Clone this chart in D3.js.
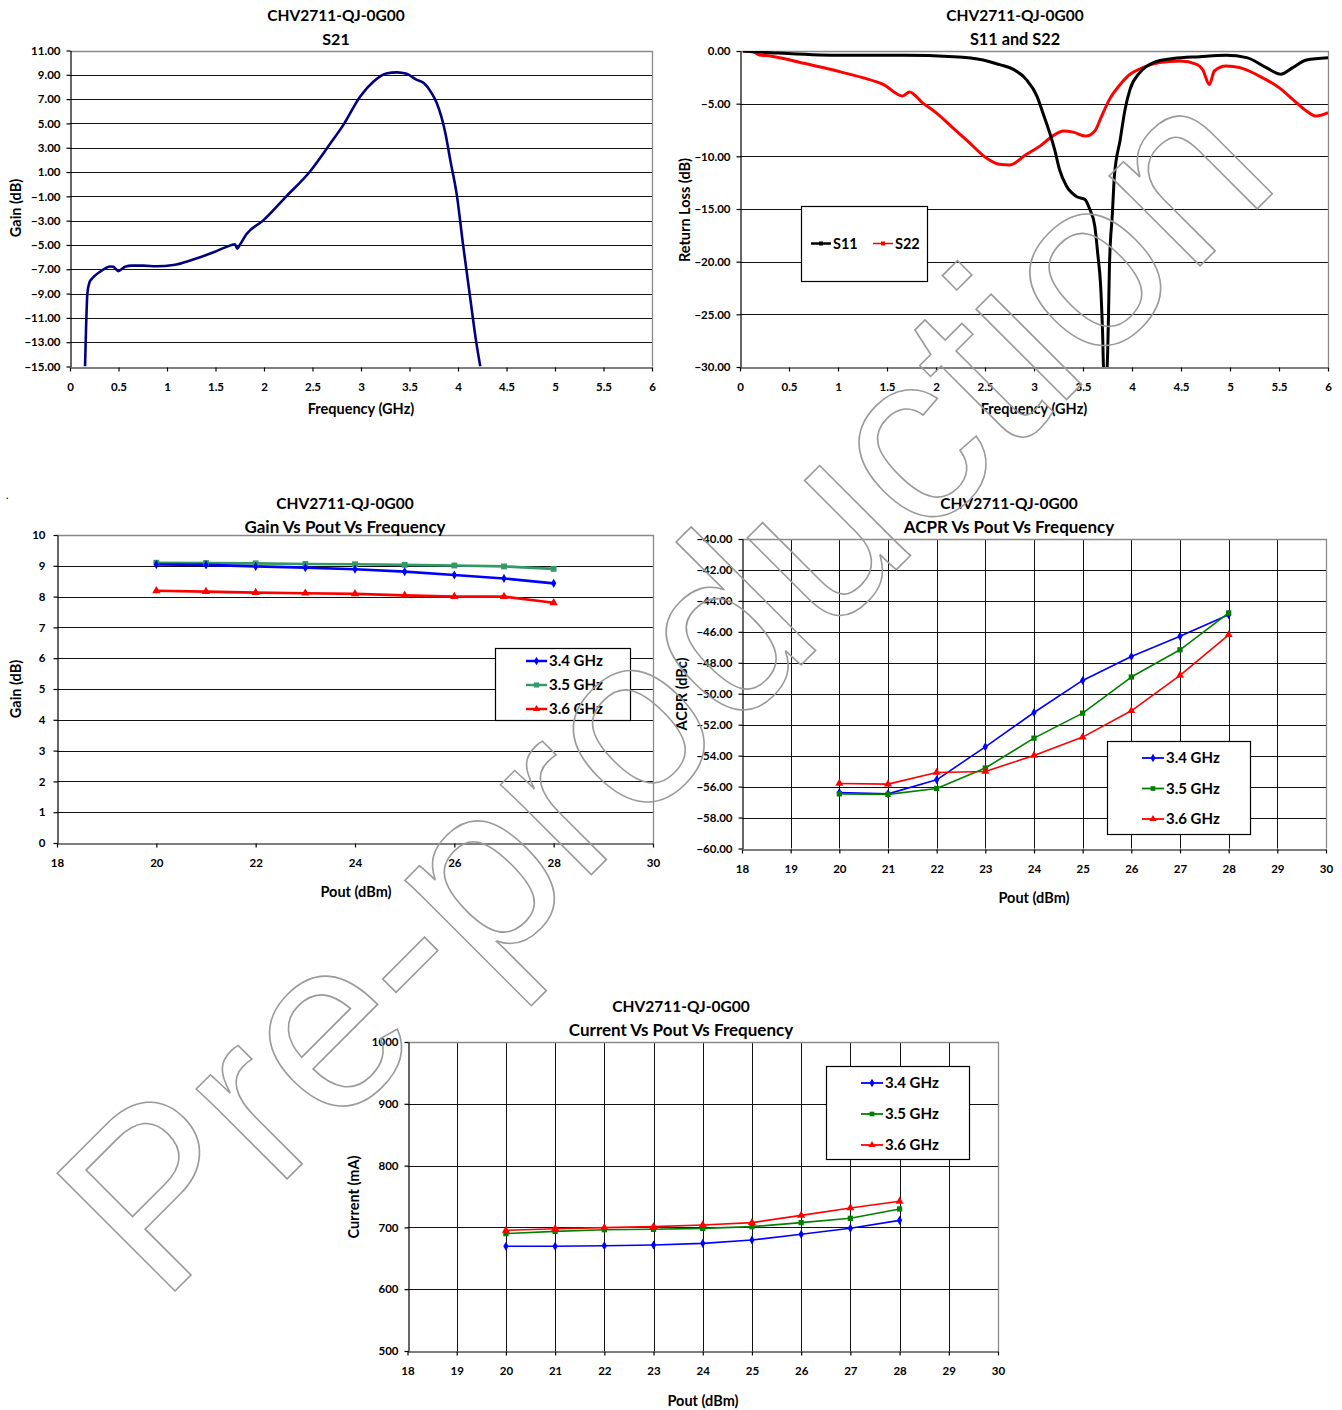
<!DOCTYPE html>
<html><head><meta charset="utf-8">
<script src="https://cdn.jsdelivr.net/npm/d3@7"></script>
<style>
html,body{margin:0;padding:0;background:#fff;}
svg text.t{font-family:Lato,"Open Sans",sans-serif;font-weight:700;fill:#000;}
</style></head>
<body>
<svg id="c" width="1342" height="1410"></svg>
<script>
// ---------- DATA ----------
const partName = "CHV2711-QJ-0G00";
// S21
const s21Freq = [0.155,0.165,0.179,0.2,0.223,0.26,0.31,0.36,0.41,0.447,0.475,0.498,0.53,0.567,0.636,0.756,0.893,1.065,1.27,1.48,1.6,1.667,1.7,1.725,1.75,1.82,1.99,2.23,2.47,2.68,2.82,2.99,3.13,3.26,3.37,3.47,3.57,3.65,3.72,3.78,3.87,3.92,3.99,4.05,4.12,4.19,4.23];
const s21Gain = [-15,-12,-9,-8.1,-7.8,-7.5,-7.2,-6.95,-6.77,-6.8,-7.0,-7.15,-7.0,-6.8,-6.7,-6.7,-6.75,-6.65,-6.2,-5.6,-5.2,-5.0,-4.95,-5.3,-5.0,-4.1,-3.0,-1.0,1.0,3.3,4.9,7.2,8.45,9.1,9.2,9.08,8.6,8.3,7.6,6.7,4.2,2.0,-1.0,-4.85,-9.0,-13.1,-15];
// S11
const s11Freq = [0.03,0.31,0.99,1.67,2.18,2.48,2.65,2.79,2.92,3.03,3.09,3.16,3.21,3.26,3.33,3.43,3.52,3.57,3.62,3.65,3.68,3.70,3.712,3.742,3.76,3.77,3.80,3.82,3.88,3.93,3.98,4.08,4.22,4.42,4.69,4.96,5.17,5.37,5.52,5.64,5.78,6.0];
const s11dB   = [0,-0.16,-0.41,-0.41,-0.54,-0.85,-1.3,-1.74,-2.69,-4.28,-5.86,-7.76,-9.34,-11.25,-12.8,-13.8,-14.1,-15.05,-16.6,-19.2,-22.3,-26.8,-30.5,-30.5,-25.2,-20.4,-15.4,-11.9,-8.4,-5.5,-3.64,-2.05,-1.1,-0.72,-0.54,-0.41,-0.63,-1.58,-2.2,-1.58,-0.85,-0.63];
// S22
const s22Freq = [0.03,0.14,0.2,0.31,0.48,0.65,0.99,1.25,1.46,1.66,1.73,1.86,2.0,2.17,2.34,2.51,2.65,2.75,2.92,3.06,3.19,3.30,3.40,3.53,3.62,3.69,3.77,3.88,3.98,4.11,4.28,4.49,4.66,4.72,4.79,4.84,4.96,5.1,5.3,5.5,5.64,5.78,5.88,6.0];
const s22dB   = [0,-0.1,-0.38,-0.47,-0.79,-1.17,-1.9,-2.53,-3.16,-4.27,-3.89,-4.9,-5.85,-7.28,-8.7,-10.13,-10.76,-10.82,-9.82,-9.03,-8.08,-7.6,-7.7,-8.08,-7.6,-6.18,-4.59,-3.17,-2.21,-1.58,-1.1,-0.95,-1.26,-1.74,-3.17,-1.9,-1.43,-1.58,-2.38,-3.48,-4.59,-5.7,-6.18,-5.86];
// Pout sweeps
const pout = [20,21,22,23,24,25,26,27,28];
const freqLabels = ["3.4 GHz","3.5 GHz","3.6 GHz"];
const gain34 = [9.04,9.03,8.98,8.94,8.89,8.81,8.70,8.59,8.43];
const gain35 = [9.10,9.09,9.08,9.06,9.05,9.03,9.01,8.98,8.90];
const gain36 = [8.19,8.16,8.13,8.11,8.09,8.04,8.00,8.00,7.80];
const acpr34 = [-56.38,-56.47,-55.56,-53.43,-51.21,-49.14,-47.59,-46.29,-44.89];
const acpr35 = [-56.47,-56.50,-56.12,-54.80,-52.87,-51.25,-48.92,-47.16,-44.78];
const acpr36 = [-55.80,-55.84,-55.09,-55.02,-53.99,-52.80,-51.10,-48.81,-46.19];
const cur34 = [669.4,669.4,670.4,671.5,674.2,679.6,688.8,698.5,711.4];
const cur35 = [689.9,693.6,696.3,696.9,698.5,701.2,707.7,714.7,729.8];
const cur36 = [695.2,697.9,699.6,701.2,703.9,707.7,719.5,731.4,742.2];
// tick values
const freqTicks = [0,0.5,1,1.5,2,2.5,3,3.5,4,4.5,5,5.5,6];
const s21Ticks = [-15,-13,-11,-9,-7,-5,-3,-1,1,3,5,7,9,11];
const rlTicks = [-30,-25,-20,-15,-10,-5,0];
const gainTicks = [0,1,2,3,4,5,6,7,8,9,10];
const poutTicksEven = [18,20,22,24,26,28,30];
const poutTicksAll = [18,19,20,21,22,23,24,25,26,27,28,29,30];
const acprTicks = [-60,-58,-56,-54,-52,-50,-48,-46,-44,-42,-40];
const curTicks = [500,600,700,800,900,1000];

// ---------- DRAW ----------
const svg = d3.select("#c");
const fmt2 = d3.format(".2f");
const fmtG = d => String(d);

function T(sel){ return sel.attr("class","t"); }

function chart(o){
  const g = svg.append("g");
  const x = d3.scaleLinear().domain(o.xd).range([o.x0,o.x1]);
  const y = d3.scaleLinear().domain(o.yd).range([o.y1,o.y0]);
  g.append("g").selectAll("line").data(o.yt.filter(v=>v!==o.yd[0] && v!==o.yd[1])).join("line")
    .attr("x1",o.x0).attr("x2",o.x1).attr("y1",d=>Math.round(y(d))+0.5).attr("y2",d=>Math.round(y(d))+0.5)
    .attr("stroke","#111").attr("stroke-width",1);
  if(o.vgrid){
    g.append("g").selectAll("line").data(o.xt.filter(v=>v!==o.xd[0] && v!==o.xd[1])).join("line")
      .attr("y1",o.y0).attr("y2",o.y1).attr("x1",d=>Math.round(x(d))+0.5).attr("x2",d=>Math.round(x(d))+0.5)
      .attr("stroke","#111").attr("stroke-width",1);
  }
  g.append("path").attr("d",`M${o.x0},${Math.round(o.y0)+0.5}H${Math.round(o.x1)+0.5}V${o.y1}`)
    .attr("fill","none").attr("stroke","#8a8a8a").attr("stroke-width",1.3);
  const ax = g.append("g").attr("transform",`translate(0,${Math.round(o.y1)+0.5})`)
    .call(d3.axisBottom(x).tickValues(o.xt).tickFormat(o.xf).tickSizeInner(4).tickSizeOuter(0).tickPadding(11));
  const ay = g.append("g").attr("transform",`translate(${Math.round(o.x0)+0.5},0)`)
    .call(d3.axisLeft(y).tickValues(o.yt).tickFormat(o.yf).tickSizeInner(4).tickSizeOuter(0).tickPadding(o.ypad||6));
  [ax,ay].forEach(a=>{a.selectAll("path,line").attr("stroke","#000").attr("stroke-width",1.2);
    a.selectAll("text").style("font-size","11.5px").style("font-family","Lato").style("font-weight","700").attr("fill","#000");});
  T(g.append("text")).attr("x",o.tx).attr("y",o.ty).attr("text-anchor","middle").style("font-size","15.5px").text(partName);
  T(g.append("text")).attr("x",o.tx).attr("y",o.ty+24).attr("text-anchor","middle").style("font-size",(o.subSize||17)+"px").text(o.sub);
  T(g.append("text")).attr("x",o.xlx).attr("y",o.xly).attr("text-anchor","middle").style("font-size","14.5px").text(o.xl);
  T(g.append("text")).attr("transform",`translate(${o.ylx},${o.yly}) rotate(-90)`).attr("text-anchor","middle").style("font-size","14.5px").text(o.yl);
  const cid = "clip"+Math.round(o.x0)+"_"+Math.round(o.y0);
  svg.append("clipPath").attr("id",cid).append("rect").attr("x",o.x0).attr("y",o.y0).attr("width",o.x1-o.x0).attr("height",o.y1-o.y0);
  const plot = g.append("g").attr("clip-path",`url(#${cid})`);
  return {g,x,y,plot};
}

function addLine(c, xs, ys, color, width, curve){
  const pts = xs.map((v,i)=>[v,ys[i]]);
  c.plot.append("path").datum(pts).attr("fill","none").attr("stroke",color).attr("stroke-width",width)
    .attr("stroke-linejoin","round")
    .attr("d",d3.line().x(d=>c.x(d[0])).y(d=>c.y(d[1])).curve(curve||d3.curveLinear));
  return pts;
}
const SYM = {diamond:d3.symbolDiamond, square:d3.symbolSquare, triangle:d3.symbolTriangle};
function addMarkers(c, pts, color, shape, size){
  c.g.append("g").selectAll("path").data(pts).join("path")
    .attr("transform",d=>`translate(${c.x(d[0])},${c.y(d[1])})`)
    .attr("d",d3.symbol().type(SYM[shape]).size(size)).attr("fill",color);
}
function legend(g, bx, by, bw, bh, items, lx, ly0, dy, lw){
  g.append("rect").attr("x",bx+0.5).attr("y",by+0.5).attr("width",bw).attr("height",bh).attr("fill","#fff").attr("stroke","#000").attr("stroke-width",1.2);
  items.forEach((it,i)=>{
    const yy = ly0 + i*dy;
    g.append("line").attr("x1",lx).attr("x2",lx+lw).attr("y1",yy).attr("y2",yy).attr("stroke",it.color).attr("stroke-width",it.w||2.5);
    g.append("path").attr("transform",`translate(${lx+lw/2},${yy})`).attr("d",d3.symbol().type(SYM[it.shape]).size(it.size||22)).attr("fill",it.color);
    T(g.append("text")).attr("x",lx+lw+2).attr("y",yy+5).style("font-size","15px").text(it.label);
  });
}

// Chart 1: S21
const c1 = chart({x0:70,x1:652,y0:50.5,y1:366.5,xd:[0,6],yd:[-15,11],xt:freqTicks,yt:s21Ticks,xf:fmtG,yf:fmt2,
  tx:336,ty:21,sub:"S21",subSize:16,xl:"Frequency (GHz)",xlx:361,xly:414,yl:"Gain (dB)",ylx:21,yly:208});
addLine(c1, s21Freq, s21Gain, "#000080", 2.6, d3.curveMonotoneX);

// Chart 2: S11 and S22
const c2 = chart({x0:740,x1:1328,y0:51,y1:367,xd:[0,6],yd:[-30,0],xt:freqTicks,yt:rlTicks,xf:fmtG,yf:fmt2,
  tx:1015,ty:21,sub:"S11 and S22",subSize:16.3,xl:"Frequency (GHz)",xlx:1034,xly:414,yl:"Return Loss (dB)",ylx:690,yly:210});
addLine(c2, s22Freq, s22dB, "#ff0000", 3, d3.curveMonotoneX);
addLine(c2, s11Freq, s11dB, "#000000", 3, d3.curveMonotoneX);
legend(c2.g, 801, 206, 126, 75, [], 0,0,0,0);
[[{c:"#000",l:"S11"},811],[{c:"#ff0000",l:"S22"},873]].forEach(([it,lx])=>{
  c2.g.append("line").attr("x1",lx).attr("x2",lx+20).attr("y1",243.5).attr("y2",243.5).attr("stroke",it.c).attr("stroke-width",it.c==="#000"?2.5:1.5);
  c2.g.append("rect").attr("x",lx+8).attr("y",241.5).attr("width",4).attr("height",4).attr("fill",it.c);
  T(c2.g.append("text")).attr("x",lx+22).attr("y",248.5).style("font-size","14.5px").text(it.l);
});

// Chart 3: Gain vs Pout
const c3 = chart({x0:57,x1:653,y0:535,y1:843,xd:[18,30],yd:[0,10],xt:poutTicksEven,yt:gainTicks,xf:fmtG,yf:fmtG,ypad:8,
  tx:345,ty:509,sub:"Gain Vs Pout Vs Frequency",xl:"Pout (dBm)",xlx:356,xly:897,yl:"Gain (dB)",ylx:21,yly:689});
const colsA = ["#0000ff","#339966","#ff0000"];
let p;
p = addLine(c3, pout, gain35, colsA[1], 2.6); addMarkers(c3,p,colsA[1],"square",34);
p = addLine(c3, pout, gain34, colsA[0], 2.6); addMarkers(c3,p,colsA[0],"diamond",24);
p = addLine(c3, pout, gain36, colsA[2], 2.6); addMarkers(c3,p,colsA[2],"triangle",30);
legend(c3.g, 495, 648, 135, 72, [
  {label:freqLabels[0],color:colsA[0],shape:"diamond"},
  {label:freqLabels[1],color:colsA[1],shape:"square",size:26},
  {label:freqLabels[2],color:colsA[2],shape:"triangle"}], 526, 661, 24, 21);

// Chart 4: ACPR
const colsB = ["#0000ff","#008000","#ff0000"];
const c4 = chart({x0:742,x1:1326,y0:539,y1:848.5,xd:[18,30],yd:[-60,-40],xt:poutTicksAll,yt:acprTicks,xf:fmtG,yf:fmt2,vgrid:true,
  tx:1009,ty:509,sub:"ACPR Vs Pout Vs Frequency",xl:"Pout (dBm)",xlx:1034,xly:903,yl:"ACPR (dBc)",ylx:687,yly:694});
p = addLine(c4, pout, acpr34, colsB[0], 1.6); addMarkers(c4,p,colsB[0],"diamond",24);
p = addLine(c4, pout, acpr35, colsB[1], 1.6); addMarkers(c4,p,colsB[1],"square",28);
p = addLine(c4, pout, acpr36, colsB[2], 1.6); addMarkers(c4,p,colsB[2],"triangle",28);
legend(c4.g, 1107, 741, 143, 93, [
  {label:freqLabels[0],color:colsB[0],shape:"diamond",w:1.8},
  {label:freqLabels[1],color:colsB[1],shape:"square",w:1.8},
  {label:freqLabels[2],color:colsB[2],shape:"triangle",w:1.8}], 1142, 758, 30.5, 22);

// Chart 5: Current
const c5 = chart({x0:407.5,x1:998,y0:1042,y1:1351,xd:[18,30],yd:[500,1000],xt:poutTicksAll,yt:curTicks,xf:fmtG,yf:fmtG,vgrid:true,
  tx:681,ty:1012,sub:"Current Vs Pout Vs Frequency",xl:"Pout (dBm)",xlx:703,xly:1406,yl:"Current (mA)",ylx:359,yly:1197});
p = addLine(c5, pout, cur34, colsB[0], 1.6); addMarkers(c5,p,colsB[0],"diamond",24);
p = addLine(c5, pout, cur35, colsB[1], 1.6); addMarkers(c5,p,colsB[1],"square",28);
p = addLine(c5, pout, cur36, colsB[2], 1.6); addMarkers(c5,p,colsB[2],"triangle",28);
legend(c5.g, 826, 1066, 143, 93, [
  {label:freqLabels[0],color:colsB[0],shape:"diamond",w:1.8},
  {label:freqLabels[1],color:colsB[1],shape:"square",w:1.8},
  {label:freqLabels[2],color:colsB[2],shape:"triangle",w:1.8}], 861, 1083, 31, 22);

// stray dot
T(svg.append("text")).attr("x",6).attr("y",499).style("font-size","10px").text(".");

// watermark (outlined text)
svg.append("text").attr("transform","translate(161,1305) rotate(-45)")
  .style("font-family","'Liberation Sans',Arial,sans-serif").style("font-weight","400").style("font-size","242px")
  .style("fill","none").style("stroke","#9a9a9a").style("stroke-width","1.6px").text("Pre-production");
</script>
</body></html>
